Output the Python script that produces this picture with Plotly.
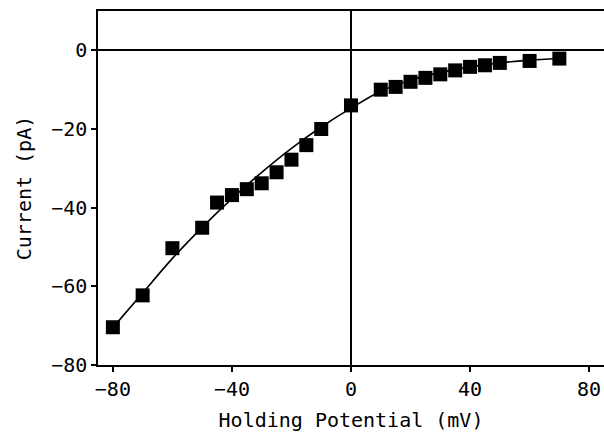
import plotly.graph_objects as go

# Measured data points
voltage_mv = [-80, -70, -60, -50, -45, -40, -35, -30, -25, -20, -15, -10, 0,
              10, 15, 20, 25, 30, 35, 40, 45, 50, 60, 70]
current_pa = [-70.4, -62.3, -50.3, -45.1, -38.7, -36.8, -35.3, -33.8, -31.0, -27.8, -24.1, -20.0, -14.0,
              -10.0, -9.3, -8.0, -7.0, -6.1, -5.1, -4.2, -3.8, -3.2, -2.7, -2.1]

# Fitted curve
fit_x = [-80, -70, -60, -50, -40, -30, -20, -10, 0, 10, 20, 30, 40, 50, 60, 70]
fit_y = [-70.5, -61.7, -52.9, -45.0, -37.7, -31.0, -24.9, -19.5, -14.7, -10.4, -7.6, -5.6, -4.2, -3.2, -2.5, -2.0]

x_ticks = [-80, -40, 0, 40, 80]
y_ticks = [-80, -60, -40, -20, 0]

FONT = "DejaVu Sans Mono"

fig = go.Figure()
fig.add_trace(go.Scatter(x=fit_x, y=fit_y, mode="lines",
                         line=dict(color="black", width=1.6, shape="spline", smoothing=0.8),
                         hoverinfo="skip", showlegend=False))
fig.add_trace(go.Scatter(x=voltage_mv, y=current_pa, mode="markers",
                         marker=dict(symbol="square", size=14, color="black"),
                         showlegend=False))

fig.update_layout(
    width=604, height=432,
    margin=dict(l=98, r=0, t=11, b=67),
    paper_bgcolor="white", plot_bgcolor="white",
    font=dict(family=FONT, color="black", size=20),
    xaxis=dict(range=[-85, 85], tickvals=x_ticks, ticks="outside", ticklen=5,
               tickwidth=1.5, tickcolor="black", showline=True, linecolor="black",
               linewidth=1.5, mirror=True, showgrid=False,
               zeroline=True, zerolinecolor="black", zerolinewidth=1.5,
               tickfont=dict(size=20, family=FONT),
               title=dict(text="Holding Potential (mV)", font=dict(size=20, family=FONT), standoff=17)),
    yaxis=dict(range=[-80, 10], tickvals=y_ticks, ticks="outside", ticklen=5,
               tickwidth=1.5, tickcolor="black", showline=True, linecolor="black",
               linewidth=1.5, showgrid=False,
               zeroline=True, zerolinecolor="black", zerolinewidth=1.5,
               tickfont=dict(size=20, family=FONT),
               title=dict(text="Current (pA)", font=dict(size=20, family=FONT), standoff=14)),
)

fig.write_html("out.html")
